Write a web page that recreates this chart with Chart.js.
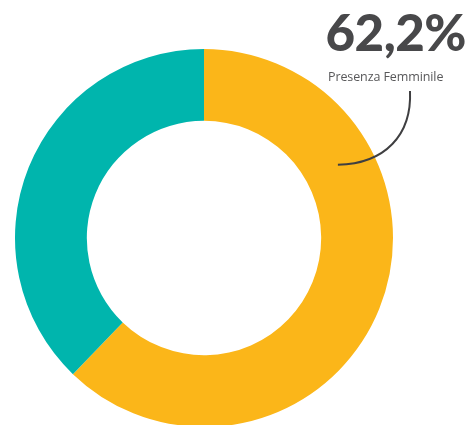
<!DOCTYPE html>
<html>
<head>
<meta charset="utf-8">
<script src="https://cdn.jsdelivr.net/npm/chart.js@4"></script>
<style>
  html, body { margin: 0; padding: 0; background: #fff; }
  #wrap { position: relative; width: 473px; height: 425px; overflow: hidden; }
  #box { position: absolute; left: 0; top: 0; width: 473px; height: 476px; }
  .big { position: absolute; right: 7px; top: 6px; font-family: Lato, sans-serif; font-weight: 900;
         font-size: 51px; color: #48484a; letter-spacing: -0.5px; line-height: 1; }
  .sub { position: absolute; left: 328px; top: 71px; font-family: "Open Sans", sans-serif; font-size: 12.5px;
         color: #58585a; line-height: 1; letter-spacing: -0.1px; }
</style>
</head>
<body>
<div id="wrap">
  <div id="box"><canvas id="donut"></canvas></div>
  <div class="big" id="bigLabel"></div>
  <div class="sub" id="subLabel"></div>
</div>
<script>
const categories = ['Presenza Femminile', 'Presenza Maschile'];
const values = [62.2, 37.8];
const colors = ['#fbb619', '#00b5ad'];

document.getElementById('bigLabel').textContent = values[0].toFixed(1).replace('.', ',') + '%';
document.getElementById('subLabel').textContent = categories[0];

// curved connector from the label down to the yellow slice
const connector = {
    id: 'connector',
    afterDatasetsDraw(chart) {
        const arc = chart.getDatasetMeta(0).data[0];
        const r = (arc.innerRadius + arc.outerRadius) / 2;
        const a = -Math.PI / 2 + 61 * Math.PI / 180;
        const ex = arc.x + r * Math.cos(a);
        const ey = arc.y + r * Math.sin(a);
        const c = chart.ctx;
        c.save();
        c.strokeStyle = '#3f3f41';
        c.lineWidth = 2;
        c.beginPath();
        c.moveTo(410, 91);
        c.bezierCurveTo(412, 135, 385, ey, ex, ey + 1);
        c.stroke();
        c.restore();
    }
};

new Chart(document.getElementById('donut').getContext('2d'), {
    type: 'doughnut',
    data: {
        labels: categories,
        datasets: [{
            data: values,
            backgroundColor: colors,
            borderWidth: 0
        }]
    },
    options: {
        responsive: true,
        maintainAspectRatio: false,
        animation: false,
        cutout: '62%',
        layout: { padding: { left: 15, right: 80, top: 49, bottom: 49 } },
        plugins: {
            legend: { display: false },
            tooltip: { enabled: false }
        }
    },
    plugins: [connector]
});
</script>
</body>
</html>
